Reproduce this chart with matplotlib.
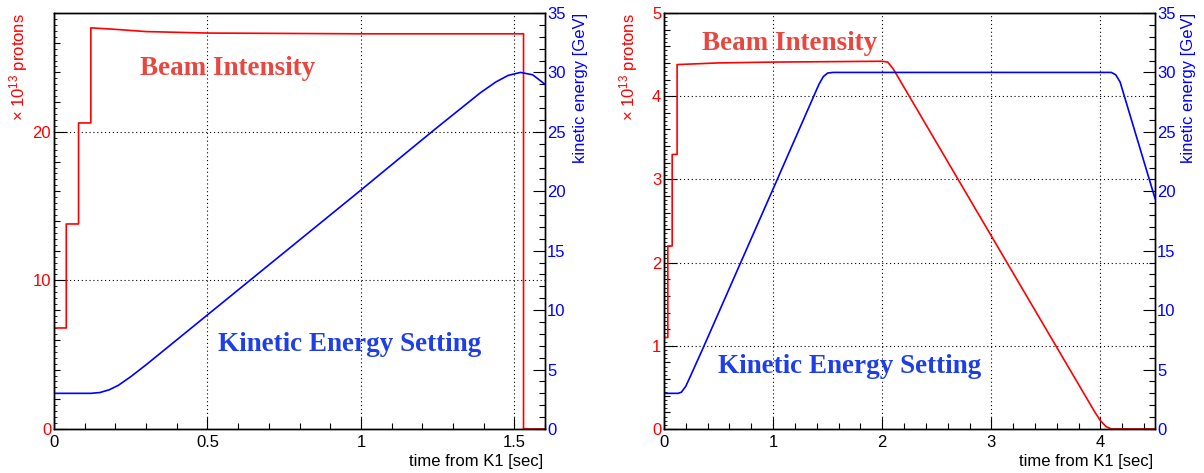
import numpy as np
import matplotlib
matplotlib.use("Agg")
import matplotlib.pyplot as plt
from matplotlib.ticker import MultipleLocator, NullLocator

plt.rcParams["font.family"] = "Liberation Sans"
plt.rcParams["mathtext.fontset"] = "custom"
plt.rcParams["mathtext.rm"] = "Liberation Sans"
plt.rcParams["mathtext.it"] = "Liberation Sans:italic"

# ---- left panel: slow extraction cycle (1.6 s window) ----
left_t_int = [0, 0, 0.04, 0.04, 0.08, 0.08, 0.12, 0.12, 0.2, 0.3, 0.5, 1.0, 1.53, 1.53, 1.6]
left_int = [0, 6.8, 6.8, 13.8, 13.8, 20.6, 20.6, 27.0, 26.9, 26.75, 26.65, 26.6, 26.6, 0, 0]

left_t_ke = [0, 0, 0.12, 0.15, 0.18, 0.21, 0.25, 0.3, 0.4, 0.5, 0.75, 1.0, 1.16, 1.25,
             1.39, 1.44, 1.48, 1.52, 1.56, 1.6]
left_ke = [0, 3.0, 3.0, 3.07, 3.3, 3.68, 4.4, 5.4, 7.5, 9.6, 14.85, 20.1, 23.5, 25.4,
           28.3, 29.2, 29.75, 30.0, 29.8, 29.0]

# ---- right panel: fast extraction cycle (4.5 s window) ----
right_t_int = [0, 0, 0.035, 0.035, 0.075, 0.075, 0.12, 0.12, 0.5, 1.0, 2.0, 2.05,
               2.1, 3.0, 3.95, 4.0, 4.05, 4.1, 4.5]
right_int = [0, 1.1, 1.1, 2.2, 2.2, 3.3, 3.3, 4.38, 4.4, 4.41, 4.42, 4.41,
             4.33, 2.32, 0.2, 0.1, 0.03, 0.0, 0.0]

right_t_ke = [0, 0, 0.13, 0.16, 0.2, 0.24, 0.36, 1.0, 1.42, 1.46, 1.5, 1.55,
              4.1, 4.14, 4.18, 4.5]
right_ke = [0, 3.0, 3.0, 3.1, 3.6, 4.4, 6.85, 20.2, 29.0, 29.65, 29.95, 30.0,
            30.0, 29.8, 29.2, 19.4]

RED = "#ff0000"
BLUE = "#0000ff"
TXT_RED = "#e8473f"
TXT_BLUE = "#1f3fe6"

W, H = 1204, 473
fig = plt.figure(figsize=(W / 100, H / 100), dpi=100)


def px_box(x0, x1, y0, y1):
    return [x0 / W, 1 - y1 / H, (x1 - x0) / W, (y1 - y0) / H]


def setup(ax, ax2, xmax, ymax, xmaj, xmin, ymaj, ymin, yfine):
    ax.set_xlim(0, xmax)
    ax.set_ylim(0, ymax)
    ax2.set_ylim(0, 35)
    ax.xaxis.set_major_locator(MultipleLocator(xmaj))
    ax.xaxis.set_minor_locator(MultipleLocator(xmin))
    ax.yaxis.set_major_locator(MultipleLocator(ymaj))
    ax.yaxis.set_minor_locator(MultipleLocator(ymin))
    ax2.yaxis.set_major_locator(MultipleLocator(5))
    ax2.yaxis.set_minor_locator(MultipleLocator(1))
    ax.grid(True, which="major", color="black", linestyle=(0, (1, 2.5)), linewidth=0.8)
    ax.tick_params(axis="x", which="both", direction="in", top=False, colors="black",
                   labelsize=12, pad=4)
    ax.tick_params(axis="x", which="major", length=9, width=0.8)
    ax.tick_params(axis="x", which="minor", length=4.5, width=0.8)
    ax.tick_params(axis="y", which="both", direction="in", right=False, labelcolor=RED,
                   labelsize=12, pad=2)
    ax.tick_params(axis="y", which="major", length=9, width=0.8)
    ax.tick_params(axis="y", which="minor", length=4.5, width=0.8)
    ax2.tick_params(axis="y", which="both", direction="in", labelcolor=BLUE,
                    labelsize=12, pad=1.5)
    ax2.tick_params(axis="y", which="major", length=9, width=0.8)
    ax2.tick_params(axis="y", which="minor", length=4.5, width=0.8)
    ax.xaxis.set_major_formatter(plt.FuncFormatter(lambda v, p: f"{v:g}"))
    # fine third-level ticks on the left axis (ROOT style)
    sec = ax.secondary_yaxis("left")
    sec.yaxis.set_major_locator(NullLocator())
    sec.yaxis.set_minor_locator(MultipleLocator(yfine))
    sec.tick_params(which="minor", direction="in", length=2.2, width=0.6)
    for a in (ax, ax2):
        for s in a.spines.values():
            s.set_linewidth(1.0)
            s.set_color("black")


# left panel
ax1 = fig.add_axes(px_box(54, 545, 13, 429))
ax1b = ax1.twinx()
ax1.plot(left_t_int, left_int, color=RED, lw=1.2)
ax1b.plot(left_t_ke, left_ke, color=BLUE, lw=1.2)
setup(ax1, ax1b, 1.6, 28, 0.5, 0.1, 10, 2, 0.4)

# right panel
ax2 = fig.add_axes(px_box(664, 1155, 13, 429))
ax2b = ax2.twinx()
ax2.plot(right_t_int, right_int, color=RED, lw=1.2)
ax2b.plot(right_t_ke, right_ke, color=BLUE, lw=1.2)
setup(ax2, ax2b, 4.5, 5, 1, 0.2, 1, 0.2, 0.05)

# axis titles (ROOT style, flush with the axis ends)
for xl, xr in ((19, 581), (629, 1188)):
    fig.text(xl / W, 1 - 13 / H, r"$\mathregular{\times\ 10^{13}}$ protons", color=RED,
             rotation=90, ha="center", va="top", fontsize=12)
    fig.text(xr / W, 1 - 13 / H, "kinetic energy [GeV]", color=BLUE,
             rotation=90, ha="center", va="top", fontsize=12)
for xe in (543, 1153):
    fig.text(xe / W, 1 - 466 / H, "time from K1 [sec]", color="black",
             ha="right", va="baseline", fontsize=12)

# annotations
serif = dict(family="Liberation Serif", weight="bold", fontsize=19.5)
fig.text(140 / W, 1 - 75 / H, "Beam Intensity", color=TXT_RED, va="baseline", **serif)
fig.text(702 / W, 1 - 50 / H, "Beam Intensity", color=TXT_RED, va="baseline", **serif)
fig.text(218 / W, 1 - 351 / H, "Kinetic Energy Setting", color=TXT_BLUE, va="baseline", **serif)
fig.text(718 / W, 1 - 373 / H, "Kinetic Energy Setting", color=TXT_BLUE, va="baseline", **serif)

fig.savefig("out.png", dpi=100)
